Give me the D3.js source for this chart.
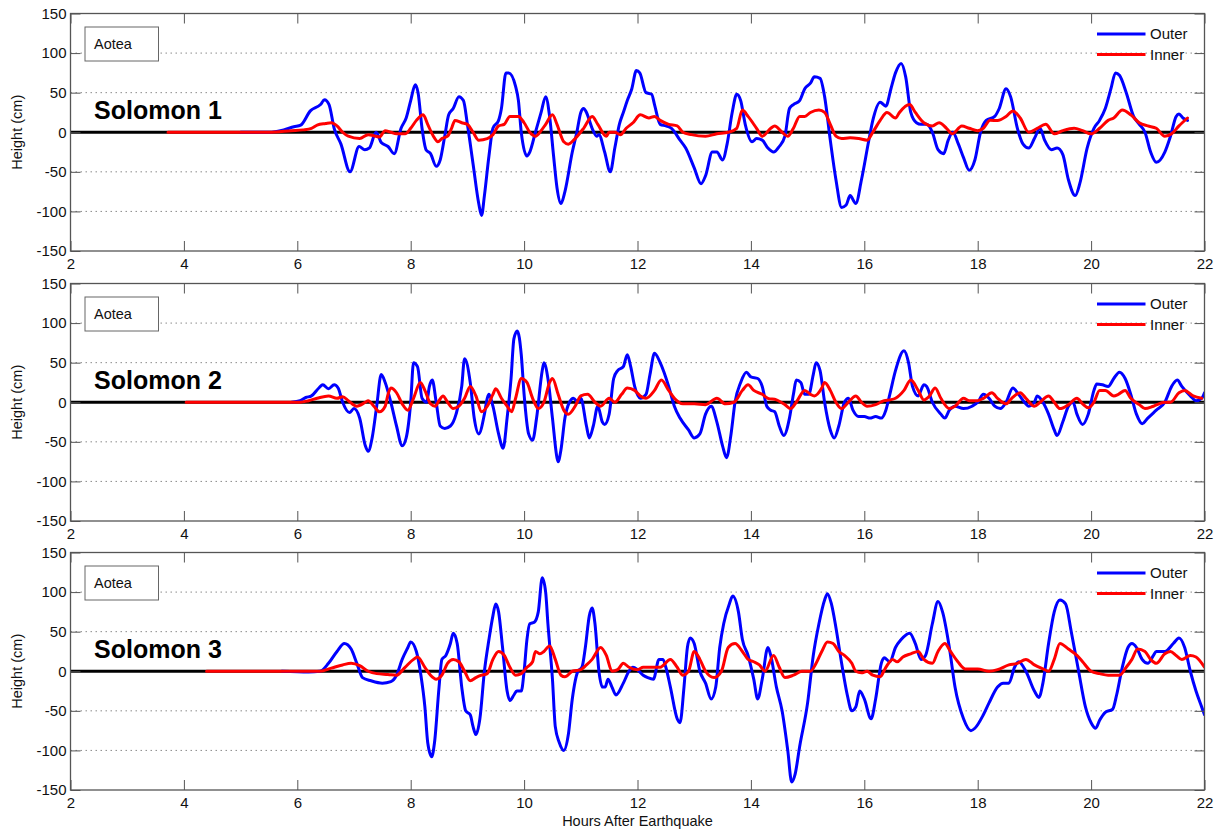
<!DOCTYPE html>
<html>
<head>
<meta charset="utf-8">
<script src="https://cdn.jsdelivr.net/npm/d3@7"></script>
<style>
  html, body { margin: 0; padding: 0; background: #fff; }
  svg { display: block; }
  text { font-family: "Liberation Sans", Arial, Helvetica, sans-serif; }
</style>
</head>
<body>
<svg id="chart" width="1220" height="834"></svg>
<script>
// ---------- data (hours after earthquake, height in cm) ----------
const panelTitles = ["Solomon 1", "Solomon 2", "Solomon 3"];
const stationLabel = "Aotea";
const seriesNames = ["Outer", "Inner"];
const xTicks = [2, 4, 6, 8, 10, 12, 14, 16, 18, 20, 22];
const yTicks = [-150, -100, -50, 0, 50, 100, 150];

const outer1 = [[5.0,0],[5.5,0],[5.76,3],[5.94,7],[6.06,9],[6.23,27],[6.41,35],[6.48,41],[6.56,35],[6.65,5],[6.77,-15],[6.93,-50],[7.09,-18],[7.19,-22],[7.27,-20],[7.39,0],[7.48,-13],[7.6,-18],[7.71,-27],[7.83,5],[7.92,18],[8.0,40],[8.08,60],[8.13,50],[8.2,5],[8.27,-22],[8.35,-27],[8.45,-43],[8.52,-35],[8.6,-5],[8.67,22],[8.75,30],[8.85,45],[8.93,40],[9.0,10],[9.1,-40],[9.2,-90],[9.25,-105],[9.3,-80],[9.38,-30],[9.45,5],[9.55,15],[9.6,30],[9.68,75],[9.73,75],[9.85,58],[9.9,40],[9.95,0],[10.05,-30],[10.1,-25],[10.2,0],[10.3,25],[10.38,45],[10.45,20],[10.52,-30],[10.58,-70],[10.65,-90],[10.72,-75],[10.85,-25],[10.93,0],[11.0,25],[11.05,30],[11.1,25],[11.2,5],[11.28,-5],[11.32,-3],[11.42,-25],[11.52,-50],[11.6,-20],[11.68,10],[11.75,25],[11.82,40],[11.9,55],[11.98,78],[12.04,75],[12.15,50],[12.25,48],[12.3,35],[12.4,10],[12.5,8],[12.6,5],[12.75,-10],[12.85,-20],[13.0,-45],[13.12,-65],[13.2,-55],[13.32,-25],[13.4,-25],[13.5,-35],[13.58,-15],[13.67,25],[13.75,48],[13.82,40],[13.9,10],[14.02,-12],[14.1,-8],[14.2,-10],[14.3,-20],[14.4,-25],[14.5,-18],[14.6,-5],[14.68,30],[14.75,35],[14.86,40],[14.95,55],[15.05,62],[15.12,70],[15.22,68],[15.3,45],[15.4,-10],[15.5,-60],[15.6,-95],[15.68,-92],[15.75,-80],[15.85,-90],[15.95,-60],[16.08,-10],[16.15,15],[16.28,38],[16.38,33],[16.47,55],[16.55,75],[16.65,87],[16.73,70],[16.82,25],[16.92,12],[17.0,10],[17.1,10],[17.2,0],[17.3,-22],[17.4,-27],[17.48,-10],[17.56,0],[17.66,-15],[17.75,-32],[17.85,-48],[17.95,-35],[18.05,0],[18.15,15],[18.3,20],[18.38,30],[18.5,55],[18.58,45],[18.7,5],[18.8,-15],[18.9,-20],[19.0,-8],[19.1,5],[19.18,-10],[19.3,-22],[19.4,-20],[19.5,-28],[19.6,-60],[19.72,-80],[19.8,-65],[19.93,-20],[20.05,5],[20.15,15],[20.25,30],[20.35,55],[20.43,75],[20.5,72],[20.62,50],[20.75,20],[20.85,10],[20.95,0],[21.05,-25],[21.15,-38],[21.3,-25],[21.4,-5],[21.5,20],[21.55,23],[21.62,18],[21.7,15]];

const inner1 = [[3.72,0],[5.5,0],[5.9,2],[6.1,3],[6.25,5],[6.35,9],[6.5,11],[6.6,12],[6.7,8],[6.8,0],[6.9,-5],[7.1,-8],[7.25,-3],[7.38,-5],[7.45,-6],[7.55,2],[7.65,0],[7.75,-2],[7.9,-2],[8.0,5],[8.1,15],[8.22,22],[8.3,10],[8.4,-5],[8.48,-12],[8.55,-8],[8.65,-5],[8.72,5],[8.78,15],[8.9,12],[9.0,10],[9.1,0],[9.2,-10],[9.35,-8],[9.45,-3],[9.55,8],[9.65,10],[9.75,20],[9.9,20],[10.0,12],[10.1,0],[10.2,-5],[10.3,2],[10.38,10],[10.5,22],[10.58,10],[10.7,-12],[10.78,-15],[10.9,-8],[11.05,5],[11.2,20],[11.3,10],[11.45,-5],[11.5,0],[11.6,0],[11.7,-3],[11.8,5],[11.92,12],[12.05,22],[12.2,18],[12.3,20],[12.4,15],[12.55,10],[12.7,8],[12.8,0],[12.95,-3],[13.2,-5],[13.4,-2],[13.6,0],[13.75,5],[13.85,28],[13.95,20],[14.1,5],[14.2,-5],[14.35,5],[14.42,8],[14.55,0],[14.65,-5],[14.75,5],[14.86,20],[14.95,20],[15.05,25],[15.2,28],[15.3,25],[15.4,10],[15.5,-5],[15.6,-8],[15.75,-7],[15.9,-8],[16.05,-10],[16.15,0],[16.28,15],[16.4,25],[16.55,18],[16.62,25],[16.8,35],[16.9,25],[17.05,12],[17.2,8],[17.32,12],[17.45,5],[17.55,-2],[17.72,8],[17.85,5],[18.0,2],[18.1,5],[18.22,15],[18.35,15],[18.5,20],[18.62,27],[18.75,18],[18.9,0],[19.05,5],[19.2,10],[19.35,-2],[19.5,2],[19.7,5],[19.85,2],[20.0,-2],[20.15,5],[20.3,15],[20.4,18],[20.55,28],[20.7,22],[20.85,12],[21.0,8],[21.15,5],[21.3,-5],[21.42,-2],[21.55,8],[21.7,18]];

const outer2 = [[5.9,0],[6.05,2],[6.15,6],[6.25,8],[6.38,18],[6.45,22],[6.55,17],[6.65,22],[6.72,18],[6.8,0],[6.92,-13],[7.0,-8],[7.1,-20],[7.2,-55],[7.25,-62],[7.32,-45],[7.4,-5],[7.48,35],[7.55,25],[7.65,0],[7.75,-30],[7.85,-55],[7.92,-45],[8.0,0],[8.05,50],[8.12,45],[8.2,5],[8.28,0],[8.33,20],[8.38,28],[8.45,0],[8.52,-30],[8.6,-33],[8.7,-30],[8.8,-15],[8.9,20],[8.95,55],[9.05,25],[9.12,-20],[9.2,-40],[9.3,-15],[9.35,5],[9.38,10],[9.45,-5],[9.55,-40],[9.63,-58],[9.7,-20],[9.77,30],[9.82,80],[9.88,90],[9.95,60],[10.0,10],[10.08,-40],[10.15,-48],[10.22,-20],[10.32,40],[10.35,50],[10.42,30],[10.5,-20],[10.58,-70],[10.6,-75],[10.65,-60],[10.72,-20],[10.8,0],[10.87,5],[10.95,0],[11.0,5],[11.1,-30],[11.15,-45],[11.22,-30],[11.3,-5],[11.38,-25],[11.42,-28],[11.5,-15],[11.58,30],[11.65,40],[11.75,45],[11.82,60],[11.88,45],[11.95,20],[12.05,5],[12.15,10],[12.22,35],[12.3,62],[12.4,50],[12.55,20],[12.65,-5],[12.75,-20],[12.9,-35],[13.0,-45],[13.1,-40],[13.2,-15],[13.3,-5],[13.4,-25],[13.5,-55],[13.57,-70],[13.65,-40],[13.72,0],[13.82,25],[13.92,38],[14.0,32],[14.12,30],[14.2,20],[14.28,-5],[14.35,-10],[14.42,-12],[14.5,-30],[14.58,-42],[14.68,-20],[14.75,10],[14.8,28],[14.88,25],[14.95,10],[15.02,10],[15.1,35],[15.15,50],[15.22,40],[15.3,0],[15.4,-35],[15.47,-45],[15.55,-30],[15.65,0],[15.72,5],[15.8,-10],[15.9,-18],[16.0,-18],[16.1,-20],[16.2,-18],[16.3,-20],[16.38,-10],[16.45,10],[16.55,40],[16.7,65],[16.78,50],[16.85,20],[16.95,8],[17.05,22],[17.1,20],[17.2,0],[17.35,-15],[17.42,-20],[17.5,-10],[17.6,-5],[17.75,-8],[17.9,-5],[18.0,0],[18.1,10],[18.2,5],[18.3,-5],[18.4,-8],[18.5,0],[18.62,18],[18.72,10],[18.85,-2],[18.9,-5],[19.0,0],[19.05,8],[19.15,0],[19.25,-15],[19.35,-35],[19.4,-42],[19.5,-25],[19.6,-5],[19.68,0],[19.75,-15],[19.85,-28],[19.95,-15],[20.05,15],[20.1,23],[20.2,22],[20.3,20],[20.4,30],[20.5,38],[20.6,30],[20.7,10],[20.8,-15],[20.9,-27],[21.0,-20],[21.15,-10],[21.3,0],[21.42,20],[21.52,28],[21.6,20],[21.75,8],[21.85,2],[21.95,5],[22.0,12]];

const inner2 = [[4.04,0],[5.9,0],[6.05,0],[6.2,2],[6.35,5],[6.55,8],[6.7,5],[6.8,7],[6.9,2],[7.05,-5],[7.2,0],[7.25,2],[7.35,-5],[7.45,-12],[7.55,-5],[7.6,10],[7.65,18],[7.75,12],[7.85,-2],[7.95,-10],[8.05,5],[8.17,25],[8.25,15],[8.35,-2],[8.43,-5],[8.5,2],[8.57,8],[8.65,0],[8.75,-8],[8.85,-5],[8.95,5],[9.05,20],[9.15,8],[9.25,-12],[9.35,-5],[9.45,10],[9.5,17],[9.6,5],[9.7,-5],[9.78,-12],[9.85,5],[9.95,30],[10.05,25],[10.15,5],[10.25,-8],[10.35,0],[10.45,25],[10.5,30],[10.6,10],[10.7,-10],[10.78,-15],[10.9,-5],[11.0,8],[11.12,10],[11.25,0],[11.35,-5],[11.5,5],[11.6,0],[11.72,10],[11.82,18],[11.95,15],[12.05,8],[12.15,5],[12.3,15],[12.42,28],[12.55,15],[12.65,5],[12.8,-2],[13.0,-2],[13.2,-3],[13.4,5],[13.55,-2],[13.7,0],[13.85,15],[13.95,22],[14.05,15],[14.2,10],[14.3,5],[14.45,3],[14.6,-3],[14.7,-8],[14.8,0],[14.95,15],[15.05,10],[15.12,8],[15.25,18],[15.3,25],[15.4,15],[15.5,0],[15.6,-8],[15.72,0],[15.85,8],[15.95,0],[16.05,-5],[16.2,-3],[16.35,2],[16.45,3],[16.55,5],[16.7,15],[16.82,28],[16.95,15],[17.05,3],[17.15,8],[17.25,18],[17.35,5],[17.5,-8],[17.6,-5],[17.75,5],[17.85,2],[18.0,2],[18.1,5],[18.25,12],[18.35,5],[18.5,-2],[18.6,5],[18.75,12],[18.85,5],[19.0,-5],[19.1,0],[19.25,8],[19.35,0],[19.45,-8],[19.6,-3],[19.75,5],[19.85,-2],[19.95,-7],[20.05,0],[20.15,15],[20.25,15],[20.4,8],[20.48,10],[20.6,15],[20.7,5],[20.85,-3],[20.95,-8],[21.1,-5],[21.3,0],[21.4,0],[21.55,12],[21.65,15],[21.8,8],[21.95,5]];

const outer3 = [[5.73,0],[6.2,-1],[6.4,0],[6.55,10],[6.7,25],[6.83,35],[6.95,28],[7.05,10],[7.15,-8],[7.3,-12],[7.5,-15],[7.65,-13],[7.75,-5],[7.85,15],[7.95,30],[8.0,37],[8.1,25],[8.18,-5],[8.25,-45],[8.3,-90],[8.37,-108],[8.42,-90],[8.5,-20],[8.55,15],[8.62,20],[8.7,35],[8.75,48],[8.82,35],[8.9,-20],[8.97,-50],[9.05,-55],[9.1,-70],[9.15,-80],[9.22,-60],[9.3,0],[9.38,40],[9.45,70],[9.5,85],[9.55,75],[9.62,30],[9.7,-25],[9.75,-37],[9.82,-30],[9.87,-25],[9.95,-25],[10.0,0],[10.05,40],[10.1,60],[10.18,62],[10.25,75],[10.32,118],[10.38,100],[10.42,60],[10.5,-10],[10.55,-70],[10.62,-90],[10.7,-100],[10.78,-80],[10.85,-35],[10.95,0],[11.02,5],[11.08,30],[11.15,70],[11.2,80],[11.25,60],[11.32,0],[11.38,-20],[11.43,-20],[11.48,-10],[11.55,-20],[11.62,-30],[11.75,-15],[11.85,0],[11.92,5],[12.0,2],[12.1,-5],[12.18,-8],[12.28,-10],[12.38,15],[12.45,15],[12.5,5],[12.58,-20],[12.7,-60],[12.75,-65],[12.82,-20],[12.88,30],[12.93,42],[13.0,35],[13.1,0],[13.2,-15],[13.3,-35],[13.38,-20],[13.45,30],[13.52,60],[13.62,85],[13.68,95],[13.78,75],[13.85,40],[13.95,20],[14.05,-10],[14.12,-35],[14.2,-10],[14.3,30],[14.35,20],[14.45,-20],[14.55,-50],[14.65,-100],[14.72,-140],[14.78,-130],[14.86,-95],[15.0,-40],[15.1,20],[15.2,60],[15.3,90],[15.35,98],[15.42,85],[15.5,55],[15.6,10],[15.7,-30],[15.78,-50],[15.85,-45],[15.92,-25],[16.0,-35],[16.12,-60],[16.2,-35],[16.3,10],[16.35,17],[16.45,12],[16.55,30],[16.65,40],[16.8,48],[16.9,35],[17.0,15],[17.08,20],[17.2,60],[17.3,88],[17.38,75],[17.5,30],[17.6,-20],[17.75,-60],[17.88,-75],[17.95,-72],[18.1,-55],[18.2,-40],[18.35,-20],[18.45,-15],[18.55,-15],[18.65,5],[18.72,12],[18.85,0],[19.0,-25],[19.08,-33],[19.15,-15],[19.25,35],[19.35,75],[19.45,90],[19.55,85],[19.65,50],[19.78,0],[19.9,-45],[20.0,-65],[20.08,-72],[20.15,-62],[20.25,-52],[20.38,-48],[20.45,-30],[20.55,5],[20.65,30],[20.72,35],[20.8,30],[20.9,15],[21.0,10],[21.1,20],[21.15,25],[21.3,25],[21.45,35],[21.55,42],[21.65,30],[21.75,0],[21.85,-25],[21.95,-45],[22.0,-55]];

const inner3 = [[4.4,0],[6.4,0],[6.6,4],[6.8,8],[6.95,10],[7.1,7],[7.25,0],[7.4,-3],[7.6,-4],[7.75,-5],[7.9,5],[8.05,15],[8.12,18],[8.25,5],[8.35,-5],[8.45,-10],[8.55,-5],[8.65,10],[8.75,15],[8.85,12],[8.95,0],[9.05,-12],[9.15,-8],[9.25,-5],[9.35,-3],[9.45,15],[9.55,25],[9.65,20],[9.75,5],[9.85,-5],[9.95,-3],[10.05,5],[10.15,12],[10.2,25],[10.28,22],[10.35,25],[10.45,32],[10.55,15],[10.65,-5],[10.72,-7],[10.85,0],[11.0,2],[11.1,8],[11.2,15],[11.35,30],[11.45,20],[11.55,0],[11.65,2],[11.75,10],[11.85,5],[12.0,2],[12.1,5],[12.25,5],[12.4,5],[12.58,15],[12.7,5],[12.8,-5],[12.9,0],[13.0,25],[13.1,15],[13.2,0],[13.35,-8],[13.48,0],[13.6,30],[13.72,35],[13.85,25],[13.95,15],[14.05,12],[14.15,8],[14.25,0],[14.4,20],[14.5,5],[14.6,-8],[14.75,-5],[14.9,0],[15.05,0],[15.15,10],[15.25,25],[15.35,37],[15.45,35],[15.55,25],[15.65,20],[15.78,10],[15.85,0],[15.95,-2],[16.05,0],[16.15,-5],[16.28,-7],[16.38,5],[16.5,15],[16.58,12],[16.68,18],[16.82,22],[16.95,25],[17.05,15],[17.2,10],[17.3,25],[17.42,35],[17.52,25],[17.65,12],[17.78,3],[18.0,3],[18.2,0],[18.35,2],[18.55,8],[18.7,10],[18.85,15],[19.0,8],[19.15,3],[19.25,0],[19.35,15],[19.45,35],[19.6,28],[19.75,20],[19.85,12],[20.0,0],[20.15,-3],[20.3,-5],[20.5,-5],[20.62,5],[20.72,15],[20.82,28],[20.95,25],[21.05,15],[21.15,10],[21.3,22],[21.4,25],[21.5,20],[21.6,15],[21.75,20],[21.85,18],[22.0,5]];

const outerSeries = [outer1, outer2, outer3];
const innerSeries = [inner1, inner2, inner3];

// ---------- layout ----------
const svg = d3.select("#chart");
svg.append("rect").attr("width", 1220).attr("height", 834).attr("fill", "#fff");

const plotLeft = 70.5, plotRight = 1204.5;
const panelTops = [13.5, 283.5, 552.5];
const panelH = 237.5;
const frameColor = "#555";
const plainNum = d => String(d);

const x = d3.scaleLinear().domain([2, 22]).range([plotLeft, plotRight]);

const defs = svg.append("defs");

panelTops.forEach((top, i) => {
  const y = d3.scaleLinear().domain([-150, 150]).range([top + panelH, top]);
  const g = svg.append("g");

  defs.append("clipPath").attr("id", "clip" + i)
    .append("rect").attr("x", plotLeft).attr("y", top)
    .attr("width", plotRight - plotLeft).attr("height", panelH);

  // dotted horizontal gridlines
  g.append("g").selectAll("line")
    .data(yTicks.filter(t => t !== 150 && t !== -150))
    .join("line")
    .attr("x1", plotLeft).attr("x2", plotRight)
    .attr("y1", d => y(d)).attr("y2", d => y(d))
    .attr("stroke", "#8a8a8a").attr("stroke-width", 1)
    .attr("stroke-dasharray", "1.5,3.5");

  // zero reference line
  g.append("line")
    .attr("x1", plotLeft).attr("x2", plotRight)
    .attr("y1", y(0)).attr("y2", y(0))
    .attr("stroke", "#000").attr("stroke-width", 3);

  const line = d3.line()
    .x(d => x(d[0])).y(d => y(d[1]))
    .curve(d3.curveMonotoneX);

  const lines = g.append("g").attr("clip-path", `url(#clip${i})`);
  lines.append("path").datum(outerSeries[i])
    .attr("d", line).attr("fill", "none")
    .attr("stroke", "#0000ff").attr("stroke-width", 3)
    .attr("stroke-linejoin", "round").attr("stroke-linecap", "round");
  lines.append("path").datum(innerSeries[i])
    .attr("d", line).attr("fill", "none")
    .attr("stroke", "#ff0000").attr("stroke-width", 3)
    .attr("stroke-linejoin", "round").attr("stroke-linecap", "round");

  // axes (MATLAB style: ticks inside, all four sides)
  const styleAxis = sel => {
    sel.select(".domain").remove();
    sel.selectAll(".tick line").attr("stroke", frameColor).attr("stroke-width", 1);
    sel.selectAll(".tick text").attr("fill", "#111")
      .style("font-family", '"Liberation Sans", Arial, sans-serif')
      .style("font-size", "15px");
  };
  g.append("g").attr("transform", `translate(${plotLeft},0)`)
    .call(d3.axisLeft(y).tickValues(yTicks).tickFormat(plainNum).tickSizeInner(-10).tickSizeOuter(0).tickPadding(4))
    .call(styleAxis);
  g.append("g").attr("transform", `translate(${plotRight},0)`)
    .call(d3.axisRight(y).tickValues(yTicks).tickSizeInner(-10).tickSizeOuter(0).tickFormat(""))
    .call(styleAxis);
  g.append("g").attr("transform", `translate(0,${top + panelH})`)
    .call(d3.axisBottom(x).tickValues(xTicks).tickFormat(plainNum).tickSizeInner(-10).tickSizeOuter(0).tickPadding(7))
    .call(styleAxis);
  g.append("g").attr("transform", `translate(0,${top})`)
    .call(d3.axisTop(x).tickValues(xTicks).tickSizeInner(-10).tickSizeOuter(0).tickFormat(""))
    .call(styleAxis);

  // frame
  g.append("rect")
    .attr("x", plotLeft).attr("y", top)
    .attr("width", plotRight - plotLeft).attr("height", panelH)
    .attr("fill", "none").attr("stroke", frameColor).attr("stroke-width", 1.3);

  // y-axis title
  g.append("text")
    .attr("transform", `translate(22,${top + panelH / 2}) rotate(-90)`)
    .attr("text-anchor", "middle")
    .attr("fill", "#111")
    .style("font-size", "14.5px")
    .text("Height (cm)");

  // station box
  g.append("rect")
    .attr("x", 85).attr("y", top + 13.5).attr("width", 73.5).attr("height", 34)
    .attr("fill", "#fff").attr("stroke", "#666").attr("stroke-width", 1);
  g.append("text")
    .attr("x", 94).attr("y", top + 35)
    .attr("fill", "#111").style("font-size", "14.5px")
    .text(stationLabel);

  // panel title
  g.append("text")
    .attr("x", 94).attr("y", top + 105)
    .attr("fill", "#000").style("font-size", "25px").style("font-weight", "bold")
    .text(panelTitles[i]);

  // legend
  const leg = g.append("g");
  const legColors = ["#0000ff", "#ff0000"];
  seriesNames.forEach((name, k) => {
    const ly = top + 20.5 + k * 20.5;
    leg.append("line")
      .attr("x1", 1097).attr("x2", 1145.5).attr("y1", ly).attr("y2", ly)
      .attr("stroke", legColors[k]).attr("stroke-width", 3);
    leg.append("text")
      .attr("x", 1150).attr("y", ly + 5.2)
      .attr("fill", "#111").style("font-size", "15px")
      .text(name);
  });
});

// x-axis title
svg.append("text")
  .attr("x", (plotLeft + plotRight) / 2).attr("y", 826)
  .attr("text-anchor", "middle")
  .attr("fill", "#111").style("font-size", "14.5px")
  .text("Hours After Earthquake");
</script>
</body>
</html>
